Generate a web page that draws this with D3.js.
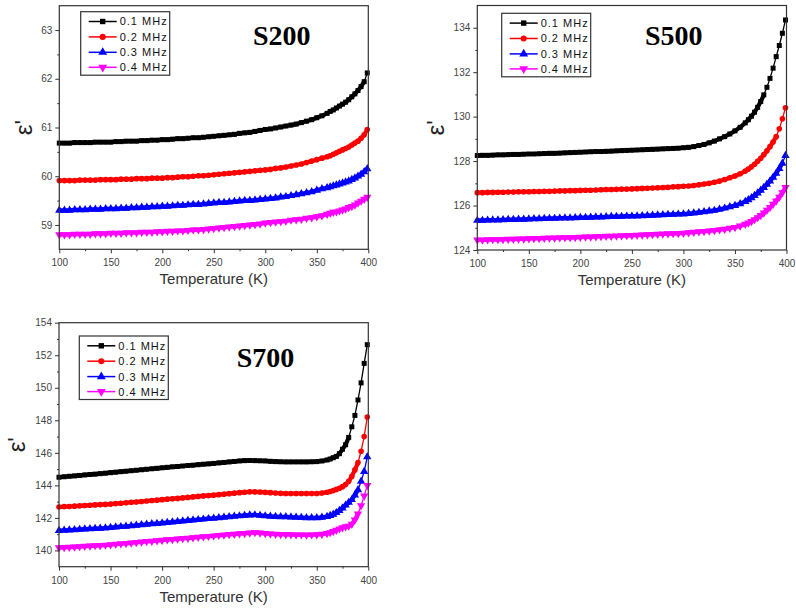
<!DOCTYPE html>
<html><head><meta charset="utf-8">
<script src="https://cdn.jsdelivr.net/npm/d3@7"></script>
<style>body{margin:0;background:#fff} svg{display:block}</style>
</head><body><svg id="c" width="796" height="609"></svg>
<script>
// ---------- DATA ----------
const temperatures = [100,105,110,115,120,125,130,135,140,145,150,155,160,165,170,175,180,185,190,195,
  200,205,210,215,220,225,230,235,240,245,250,255,260,265,270,275,280,285,290,295,
  300,305,310,315,320,325,330,335,340,345,350,355,360,363,366,369,372,375,378,381,
  384,387,390,393,396,399];
const frequencies = ["0.1 MHz","0.2 MHz","0.3 MHz","0.4 MHz"];
const sampleNames = ["S200","S500","S700"];

const s200_01 = [60.68,60.68,60.68,60.69,60.69,60.69,60.69,60.70,60.70,60.70,
  60.70,60.71,60.71,60.72,60.72,60.72,60.73,60.73,60.74,60.74,
  60.75,60.75,60.76,60.77,60.77,60.78,60.79,60.79,60.80,60.81,
  60.82,60.83,60.84,60.85,60.86,60.88,60.89,60.90,60.92,60.94,
  60.96,60.97,60.99,61.01,61.03,61.05,61.07,61.10,61.13,61.16,
  61.20,61.24,61.29,61.33,61.36,61.40,61.44,61.48,61.52,61.57,
  61.63,61.69,61.76,61.84,61.94,62.12];
const s200_02 = [59.91,59.91,59.91,59.91,59.92,59.92,59.92,59.92,59.93,59.93,
  59.93,59.93,59.94,59.94,59.94,59.95,59.95,59.95,59.96,59.96,
  59.96,59.97,59.97,59.98,59.99,59.99,60.00,60.01,60.01,60.02,
  60.03,60.04,60.05,60.06,60.07,60.08,60.09,60.10,60.11,60.12,
  60.13,60.14,60.16,60.17,60.19,60.21,60.23,60.25,60.28,60.31,
  60.34,60.37,60.40,60.42,60.45,60.48,60.51,60.54,60.57,60.60,
  60.64,60.68,60.72,60.78,60.85,60.96];
const s200_03 = [59.30,59.30,59.30,59.31,59.31,59.31,59.32,59.32,59.32,59.33,
  59.33,59.33,59.34,59.34,59.35,59.35,59.36,59.36,59.37,59.37,
  59.38,59.38,59.39,59.40,59.40,59.41,59.42,59.42,59.43,59.44,
  59.45,59.46,59.46,59.47,59.48,59.49,59.50,59.50,59.51,59.52,
  59.53,59.54,59.55,59.57,59.58,59.60,59.62,59.64,59.66,59.68,
  59.71,59.74,59.76,59.78,59.80,59.82,59.84,59.86,59.88,59.90,
  59.93,59.96,60.00,60.04,60.09,60.15];
const s200_04 = [58.80,58.80,58.80,58.81,58.81,58.81,58.81,58.82,58.82,58.82,
  58.83,58.83,58.83,58.84,58.84,58.84,58.85,58.85,58.85,58.86,
  58.86,58.87,58.87,58.88,58.88,58.89,58.90,58.90,58.91,58.92,
  58.93,58.94,58.95,58.96,58.97,58.98,58.99,59.00,59.01,59.02,
  59.04,59.05,59.06,59.07,59.08,59.10,59.11,59.12,59.14,59.15,
  59.17,59.19,59.22,59.24,59.26,59.27,59.29,59.31,59.33,59.36,
  59.38,59.41,59.45,59.49,59.53,59.57];

const s500_01 = [128.25,128.26,128.26,128.27,128.28,128.28,128.29,128.30,128.30,128.31,
  128.32,128.32,128.33,128.34,128.35,128.35,128.36,128.37,128.38,128.39,
  128.40,128.41,128.42,128.43,128.43,128.44,128.45,128.46,128.47,128.48,
  128.49,128.50,128.51,128.52,128.53,128.54,128.55,128.56,128.57,128.58,
  128.60,128.62,128.65,128.70,128.75,128.82,128.90,129.00,129.10,129.22,
  129.36,129.52,129.72,129.86,130.02,130.20,130.42,130.68,130.98,131.32,
  131.72,132.18,132.70,133.20,133.75,134.35];
const s500_02 = [126.58,126.58,126.59,126.59,126.60,126.60,126.61,126.61,126.62,126.62,
  126.62,126.63,126.63,126.64,126.64,126.65,126.66,126.66,126.67,126.67,
  126.68,126.69,126.69,126.70,126.71,126.72,126.72,126.73,126.74,126.74,
  126.75,126.76,126.77,126.78,126.79,126.80,126.81,126.82,126.84,126.85,
  126.87,126.88,126.90,126.93,126.97,127.00,127.05,127.10,127.17,127.25,
  127.33,127.43,127.55,127.64,127.74,127.86,127.99,128.13,128.29,128.46,
  128.65,128.86,129.10,129.45,129.90,130.40];
const s500_03 = [125.33,125.33,125.34,125.35,125.35,125.36,125.37,125.37,125.38,125.38,
  125.39,125.40,125.40,125.41,125.42,125.42,125.43,125.44,125.44,125.45,
  125.46,125.46,125.47,125.48,125.48,125.49,125.50,125.50,125.51,125.52,
  125.52,125.53,125.54,125.55,125.56,125.57,125.58,125.59,125.60,125.61,
  125.62,125.64,125.66,125.69,125.72,125.75,125.78,125.83,125.88,125.94,
  126.00,126.08,126.18,126.26,126.35,126.45,126.56,126.68,126.81,126.95,
  127.10,127.27,127.45,127.66,127.90,128.25];
const s500_04 = [124.45,124.45,124.46,124.47,124.47,124.48,124.49,124.49,124.50,124.50,
  124.51,124.52,124.52,124.53,124.54,124.54,124.55,124.56,124.56,124.57,
  124.58,124.59,124.59,124.60,124.61,124.62,124.62,124.63,124.64,124.65,
  124.66,124.67,124.68,124.69,124.70,124.71,124.72,124.73,124.74,124.75,
  124.76,124.78,124.80,124.82,124.84,124.86,124.88,124.91,124.94,124.98,
  125.02,125.08,125.16,125.22,125.29,125.37,125.46,125.56,125.67,125.79,
  125.92,126.06,126.21,126.38,126.58,126.82];

const s700_01 = [144.50,144.53,144.56,144.58,144.61,144.64,144.67,144.69,144.72,144.75,
  144.78,144.81,144.84,144.87,144.90,144.93,144.96,144.99,145.02,145.05,
  145.08,145.11,145.14,145.16,145.19,145.22,145.24,145.27,145.30,145.32,
  145.35,145.38,145.41,145.44,145.47,145.50,145.52,145.53,145.52,145.51,
  145.50,145.48,145.46,145.45,145.44,145.44,145.44,145.44,145.44,145.45,
  145.46,145.50,145.56,145.62,145.70,145.78,145.95,146.22,146.50,146.95,
  147.60,148.30,149.25,150.30,151.50,152.65];
const s700_02 = [142.67,142.69,142.70,142.72,142.74,142.76,142.78,142.80,142.82,142.83,
  142.85,142.88,142.90,142.93,142.96,142.98,143.01,143.04,143.07,143.09,
  143.12,143.15,143.18,143.20,143.23,143.26,143.29,143.32,143.35,143.37,
  143.40,143.43,143.46,143.49,143.52,143.55,143.58,143.60,143.60,143.59,
  143.57,143.55,143.53,143.51,143.50,143.50,143.50,143.50,143.50,143.50,
  143.50,143.53,143.58,143.62,143.68,143.75,143.82,143.92,144.05,144.25,
  144.55,144.95,145.40,146.10,147.00,148.20];
const s700_03 = [141.22,141.24,141.25,141.27,141.29,141.31,141.33,141.34,141.36,141.38,
  141.40,141.43,141.46,141.48,141.51,141.54,141.57,141.60,141.63,141.65,
  141.68,141.71,141.74,141.77,141.80,141.83,141.86,141.89,141.92,141.95,
  141.98,142.01,142.04,142.07,142.10,142.12,142.15,142.17,142.18,142.15,
  142.12,142.10,142.08,142.07,142.06,142.05,142.04,142.02,142.01,142.00,
  142.00,142.03,142.08,142.14,142.22,142.32,142.45,142.60,142.78,142.95,
  143.12,143.40,143.72,144.25,144.85,145.75];
const s700_04 = [140.17,140.19,140.20,140.22,140.24,140.26,140.28,140.30,140.31,140.33,
  140.35,140.38,140.41,140.43,140.46,140.49,140.52,140.55,140.57,140.60,
  140.63,140.66,140.68,140.71,140.74,140.76,140.79,140.82,140.85,140.87,
  140.90,140.93,140.95,140.98,141.00,141.03,141.05,141.08,141.10,141.08,
  141.05,141.02,141.00,140.99,140.98,140.97,140.96,140.96,140.95,140.96,
  140.97,141.00,141.05,141.10,141.17,141.25,141.33,141.40,141.46,141.50,
  141.62,141.88,142.25,142.75,143.35,144.00];

const xMajorTicks = [100,150,200,250,300,350,400];
const xMinorTicks = [125,175,225,275,325,375];
const yMajorS200 = [59,60,61,62,63];
const yMinorS200 = [59.5,60.5,61.5,62.5];
const yMajorS500 = [124,126,128,130,132,134];
const yMinorS500 = [125,127,129,131,133];
const yMajorS700 = [140,142,144,146,148,150,152,154];
const yMinorS700 = [141,143,145,147,149,151,153];
const xTitle = "Temperature (K)";
const yTitle = "\u03b5'";

// ---------- LAYOUT / STYLE ----------
const colors = ["#000000","#ff0000","#0000ff","#ff00ff"];
const symbols = [d3.symbolSquare, d3.symbolCircle, d3.symbolTriangle, d3.symbolTriangle];
const rotations = [0,0,0,180];
const markerSize = [25,25,30,30];
const panels = [
  {name:sampleNames[0], series:[s200_01,s200_02,s200_03,s200_04], ydom:[58.5,63.5], yMajor:yMajorS200, yMinor:yMinorS200,
   x0:59.3, x1:368.3, y0:5.7, y1:249.3, titleX:253, titleY:45, legX:80.7, legY:11.7, yLabX:32},
  {name:sampleNames[1], series:[s500_01,s500_02,s500_03,s500_04], ydom:[124,135], yMajor:yMajorS500, yMinor:yMinorS500,
   x0:477.3, x1:786.5, y0:5.5, y1:250, titleX:645, titleY:45, legX:501.7, legY:13.3, yLabX:444},
  {name:sampleNames[2], series:[s700_01,s700_02,s700_03,s700_04], ydom:[139,154], yMajor:yMajorS700, yMinor:yMinorS700,
   x0:59, x1:368.3, y0:322.7, y1:566.7, titleX:236.7, titleY:366.7, legX:79.3, legY:336, yLabX:25}
];

const svg = d3.select("#c");
const sans = "Arial, 'Liberation Sans', sans-serif";

panels.forEach(p => {
  const g = svg.append("g");
  const x = d3.scaleLinear().domain([100,400]).range([p.x0,p.x1]);
  const y = d3.scaleLinear().domain(p.ydom).range([p.y1,p.y0]);

  // data
  p.series.forEach((vals, i) => {
    const pts = temperatures.map((t, k) => [t, vals[k]]);
    // connecting segments: dense (short) segments form the thick noisy band, long ones stay thin
    const segs = d3.pairs(pts);
    g.append("g").selectAll("line").data(segs).join("line")
      .attr("x1", d => x(d[0][0])).attr("y1", d => y(d[0][1]))
      .attr("x2", d => x(d[1][0])).attr("y2", d => y(d[1][1]))
      .attr("stroke", colors[i]).attr("stroke-linecap","round")
      .attr("stroke-width", d => Math.hypot(x(d[1][0])-x(d[0][0]), y(d[1][1])-y(d[0][1])) < 8 ? 4.2 : 1.3);
    const sym = d3.symbol().type(symbols[i]).size(markerSize[i]);
    g.append("g").selectAll("path").data(pts).join("path")
      .attr("d", sym)
      .attr("fill", colors[i])
      .attr("transform", d => `translate(${x(d[0])},${y(d[1])}) rotate(${rotations[i]})`);
  });

  // frame
  g.append("rect").attr("x",p.x0).attr("y",p.y0).attr("width",p.x1-p.x0).attr("height",p.y1-p.y0)
    .attr("fill","none").attr("stroke","#333").attr("stroke-width",1.2);

  // axes
  const styleAxis = sel => {
    sel.select(".domain").remove();
    sel.selectAll("line").attr("stroke","#333").attr("stroke-width",1);
    sel.selectAll("text").attr("fill","#444").style("font-family",sans).style("font-size","10px");
  };
  g.append("g").attr("transform",`translate(0,${p.y1})`)
    .call(d3.axisBottom(x).tickValues(xMajorTicks).tickSize(4).tickPadding(6).tickFormat(d3.format("d")))
    .call(styleAxis);
  g.append("g").attr("transform",`translate(0,${p.y1})`)
    .call(d3.axisBottom(x).tickValues(xMinorTicks).tickSize(2).tickFormat(""))
    .call(styleAxis);
  g.append("g").attr("transform",`translate(${p.x0},0)`)
    .call(d3.axisLeft(y).tickValues(p.yMajor).tickSize(4).tickPadding(3).tickFormat(d3.format("d")))
    .call(styleAxis);
  g.append("g").attr("transform",`translate(${p.x0},0)`)
    .call(d3.axisLeft(y).tickValues(p.yMinor).tickSize(2).tickFormat(""))
    .call(styleAxis);

  // axis titles
  g.append("text").attr("x",(p.x0+p.x1)/2).attr("y",p.y1+35).attr("text-anchor","middle")
    .style("font-family",sans).style("font-size","15px").attr("fill","#333").text(xTitle);
  g.append("text").attr("transform",`translate(${p.yLabX},${(p.y0+p.y1)/2}) rotate(-90)`)
    .attr("text-anchor","middle").style("font-family",sans).style("font-size","24px").attr("fill","#222").text(yTitle);

  // sample title
  g.append("text").attr("x",p.titleX).attr("y",p.titleY)
    .style("font-family","'Times New Roman','Liberation Serif',serif").style("font-size","28px").style("font-weight","bold")
    .attr("fill","#000").text(p.name);

  // legend
  const lg = g.append("g").attr("transform",`translate(${p.legX},${p.legY})`);
  lg.append("rect").attr("width",89).attr("height",63.5).attr("fill","#fff").attr("stroke","#333").attr("stroke-width",1.2);
  const rows = [9.8, 25.2, 40.6, 55.6];
  frequencies.forEach((f, i) => {
    const ry = rows[i];
    lg.append("line").attr("x1",8).attr("x2",36).attr("y1",ry).attr("y2",ry)
      .attr("stroke",colors[i]).attr("stroke-width",1.5);
    lg.append("path").attr("d", d3.symbol().type(symbols[i]).size(markerSize[i]+4))
      .attr("fill",colors[i]).attr("transform",`translate(22,${ry}) rotate(${rotations[i]})`);
    lg.append("text").attr("x",39).attr("y",ry+4).style("font-family",sans).style("font-size","11px")
      .style("letter-spacing","1px").attr("fill","#111").text(f);
  });
});
</script></body></html>
